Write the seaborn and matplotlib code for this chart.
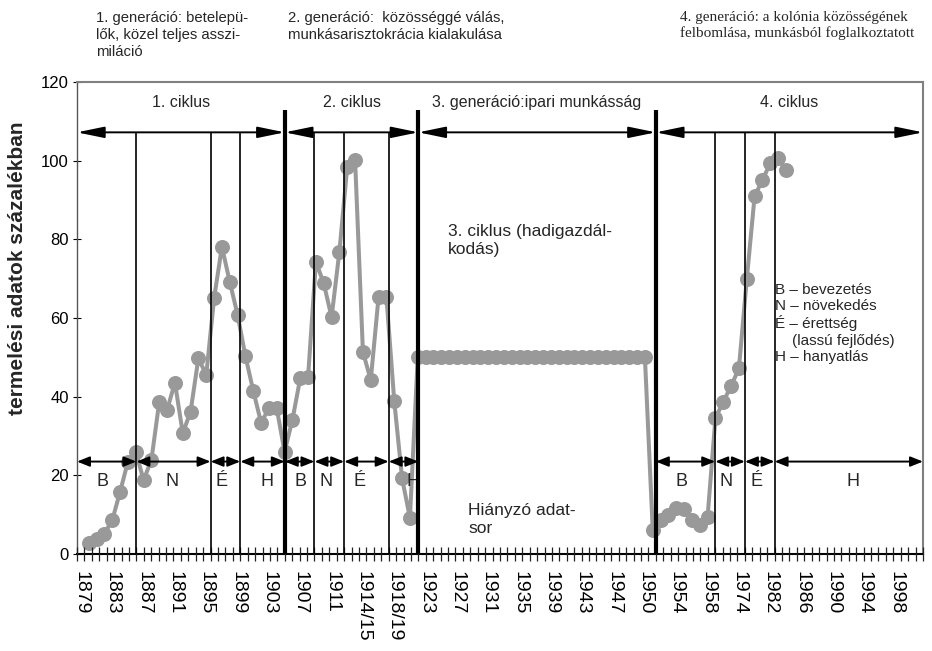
import numpy as np
import pandas as pd
import matplotlib
matplotlib.use("Agg")
import matplotlib.pyplot as plt
import seaborn as sns
from matplotlib.patches import ArrowStyle

# ---------------- data ----------------
tick_labels = ["1879", "1883", "1887", "1891", "1895", "1899", "1903", "1907",
               "1911", "1914/15", "1918/19", "1923", "1927", "1931", "1935",
               "1939", "1943", "1947", "1950", "1954", "1958", "1974", "1982",
               "1986", "1990", "1994", "1998"]
n_categories = 108
label_every = 4

values = [
    None, 2.8, 3.8, 5.2, 8.6, 15.8, 23.5, 26.0, 18.8, 23.9,
    38.7, 36.6, 43.6, 30.7, 36.2, 49.8, 45.5, 65.0, 78.1, 69.2,
    60.8, 50.3, 41.5, 33.4, 37.0, 37.0, 26.0, 34.1, 44.7, 45.1,
    74.3, 68.8, 60.2, 76.9, 98.5, 100.2, 51.4, 44.2, 65.4, 65.4,
    38.9, 19.2, 9.2, 50, 50, 50, 50, 50, 50, 50,
    50, 50, 50, 50, 50, 50, 50, 50, 50, 50,
    50, 50, 50, 50, 50, 50, 50, 50, 50, 50,
    50, 50, 50, 6.0, 8.6, 9.9, 11.6, 11.4, 8.6, 7.4,
    9.5, 34.5, 38.7, 42.7, 47.2, 69.8, 90.9, 95.1, 99.3, 100.6,
    97.6, None, None, None, None, None, None, None, None, None,
    None, None, None, None, None, None, None, None,
]

# annotation layer (secondary category scale)
n_sub = 114
cycle_bounds = [(0, 28), (28, 46), (46, 78), (78, 114)]
cycle_titles = ["1. ciklus", "2. ciklus", "3. generáció:ipari munkásság", "4. ciklus"]
thick_lines = [28, 46, 78]
thin_lines = [8, 18, 22, 32, 36, 42, 86, 90, 94]
phase_spans = [(0, 8), (8, 18), (18, 22), (22, 28), (28, 32), (32, 36), (36, 42),
               (42, 46), (78, 86), (86, 90), (90, 94), (94, 114)]
phase_letters = ["B", "N", "É", "H", "B", "N", "É", "H", "B", "N", "É", "H"]
phase_letter_pos = [3.5, 12.8, 19.5, 25.6, 30.1, 33.6, 38.1, 45.3, 81.5, 87.5, 91.5, 104.6]

legend_text = "B – bevezetés\nN – növekedés\nÉ – érettség\n    (lassú fejlődés)\nH – hanyatlás"

# ---------------- style ----------------
sns.set_theme(style="white")
plt.rcParams["font.family"] = ["Liberation Sans", "DejaVu Sans"]

W, H = 932, 651
fig = plt.figure(figsize=(W / 100, H / 100), dpi=100)
ax = fig.add_axes([77 / W, 1 - 554 / H, 846 / W, 472 / H])

df = pd.DataFrame({"pos": np.arange(n_categories), "value": values}).dropna()
df["value"] = df["value"].astype(float)
sns.lineplot(data=df, x="pos", y="value", ax=ax, color="#999999", lw=2.9,
             marker="o", markersize=10.8, markeredgewidth=0,
             markerfacecolor="#999999", zorder=3)

ax.set_xlim(-0.5, n_categories - 0.5)
ax.set_ylim(0, 120)
ax.set_xticks(np.arange(0, len(tick_labels) * label_every, label_every))
ax.set_xticklabels(tick_labels, rotation=-90, fontsize=14, va="top", ha="center")
ax.tick_params(axis="x", length=0, pad=12, colors="black")
ax.set_yticks(range(0, 121, 20))
ax.tick_params(axis="y", direction="inout", length=6, width=0.8, labelsize=12,
               pad=3, colors="black", left=True)
ax.set_xlabel("")
ax.set_ylabel("termelési adatok százalékban", fontsize=15, fontweight="bold")
ax.yaxis.set_label_coords(-0.059, 0.606)

for side in ["top", "right"]:
    ax.spines[side].set_color("#808080")
    ax.spines[side].set_linewidth(1.5)
ax.spines["left"].set_color("#555555")
ax.spines["left"].set_linewidth(1.0)
ax.spines["bottom"].set_color("black")
ax.spines["bottom"].set_linewidth(1.5)

# secondary layer
ax2 = ax.twiny()
ax2.set_xlim(0, n_sub)
ax2.xaxis.set_ticks_position("bottom")
ax2.set_xticks(np.arange(0, n_sub + 1))
ax2.tick_params(axis="x", direction="inout", length=10, width=0.9,
                colors="#222222", labelbottom=False, labeltop=False,
                bottom=True, top=False)
for s in ax2.spines.values():
    s.set_visible(False)

ax2.vlines(thick_lines, 0, 113, colors="black", lw=3.0, zorder=5)
ax2.vlines(thin_lines, 0, 107.3, colors="black", lw=1.2, zorder=5)

top_style = ArrowStyle("<|-|>", head_length=16.5, head_width=3.4)
bot_style = ArrowStyle("<|-|>", head_length=7.5, head_width=3.0)
for (a, b), title in zip(cycle_bounds, cycle_titles):
    ax2.annotate("", xy=(b, 107.2), xytext=(a, 107.2),
                 arrowprops=dict(arrowstyle=top_style, mutation_scale=1,
                                 color="black", lw=1.4, shrinkA=0, shrinkB=0),
                 annotation_clip=False)
    ax2.text((a + b) / 2, 114.7, title, ha="center", va="center", fontsize=11.5)

for (a, b) in phase_spans:
    ax2.annotate("", xy=(b, 23.5), xytext=(a, 23.5),
                 arrowprops=dict(arrowstyle=bot_style, mutation_scale=1,
                                 color="black", lw=1.4, shrinkA=0, shrinkB=0),
                 annotation_clip=False)
for pos, letter in zip(phase_letter_pos, phase_letters):
    ax2.text(pos, 18.4, letter, ha="center", va="center", fontsize=13)

ax2.text(50.0, 79.7, "3. ciklus (hadigazdál-\nkodás)", ha="left", va="center",
         fontsize=12.5, linespacing=1.3)
ax2.text(52.7, 8.8, "Hiányzó adat-\nsor", ha="left", va="center",
         fontsize=12.5, linespacing=1.3)
ax2.text(94.1, 69.0, legend_text, ha="left", va="top", fontsize=11, linespacing=1.2)

# header texts
fig.text(96 / W, 1 - 11 / H, "1. generáció: betelepü-\nlők, közel teljes asszi-\nmiláció",
         ha="left", va="top", fontsize=10.7, linespacing=1.25)
fig.text(288 / W, 1 - 11 / H, "2. generáció:  közösséggé válás,\nmunkásarisztokrácia kialakulása",
         ha="left", va="top", fontsize=10.7, linespacing=1.25)
fig.text(680 / W, 1 - 11 / H, "4. generáció: a kolónia közösségének\nfelbomlása, munkásból foglalkoztatott",
         ha="left", va="top", fontsize=11, linespacing=1.2,
         family=["Liberation Serif", "DejaVu Serif"])

fig.savefig("out.png", dpi=100)
